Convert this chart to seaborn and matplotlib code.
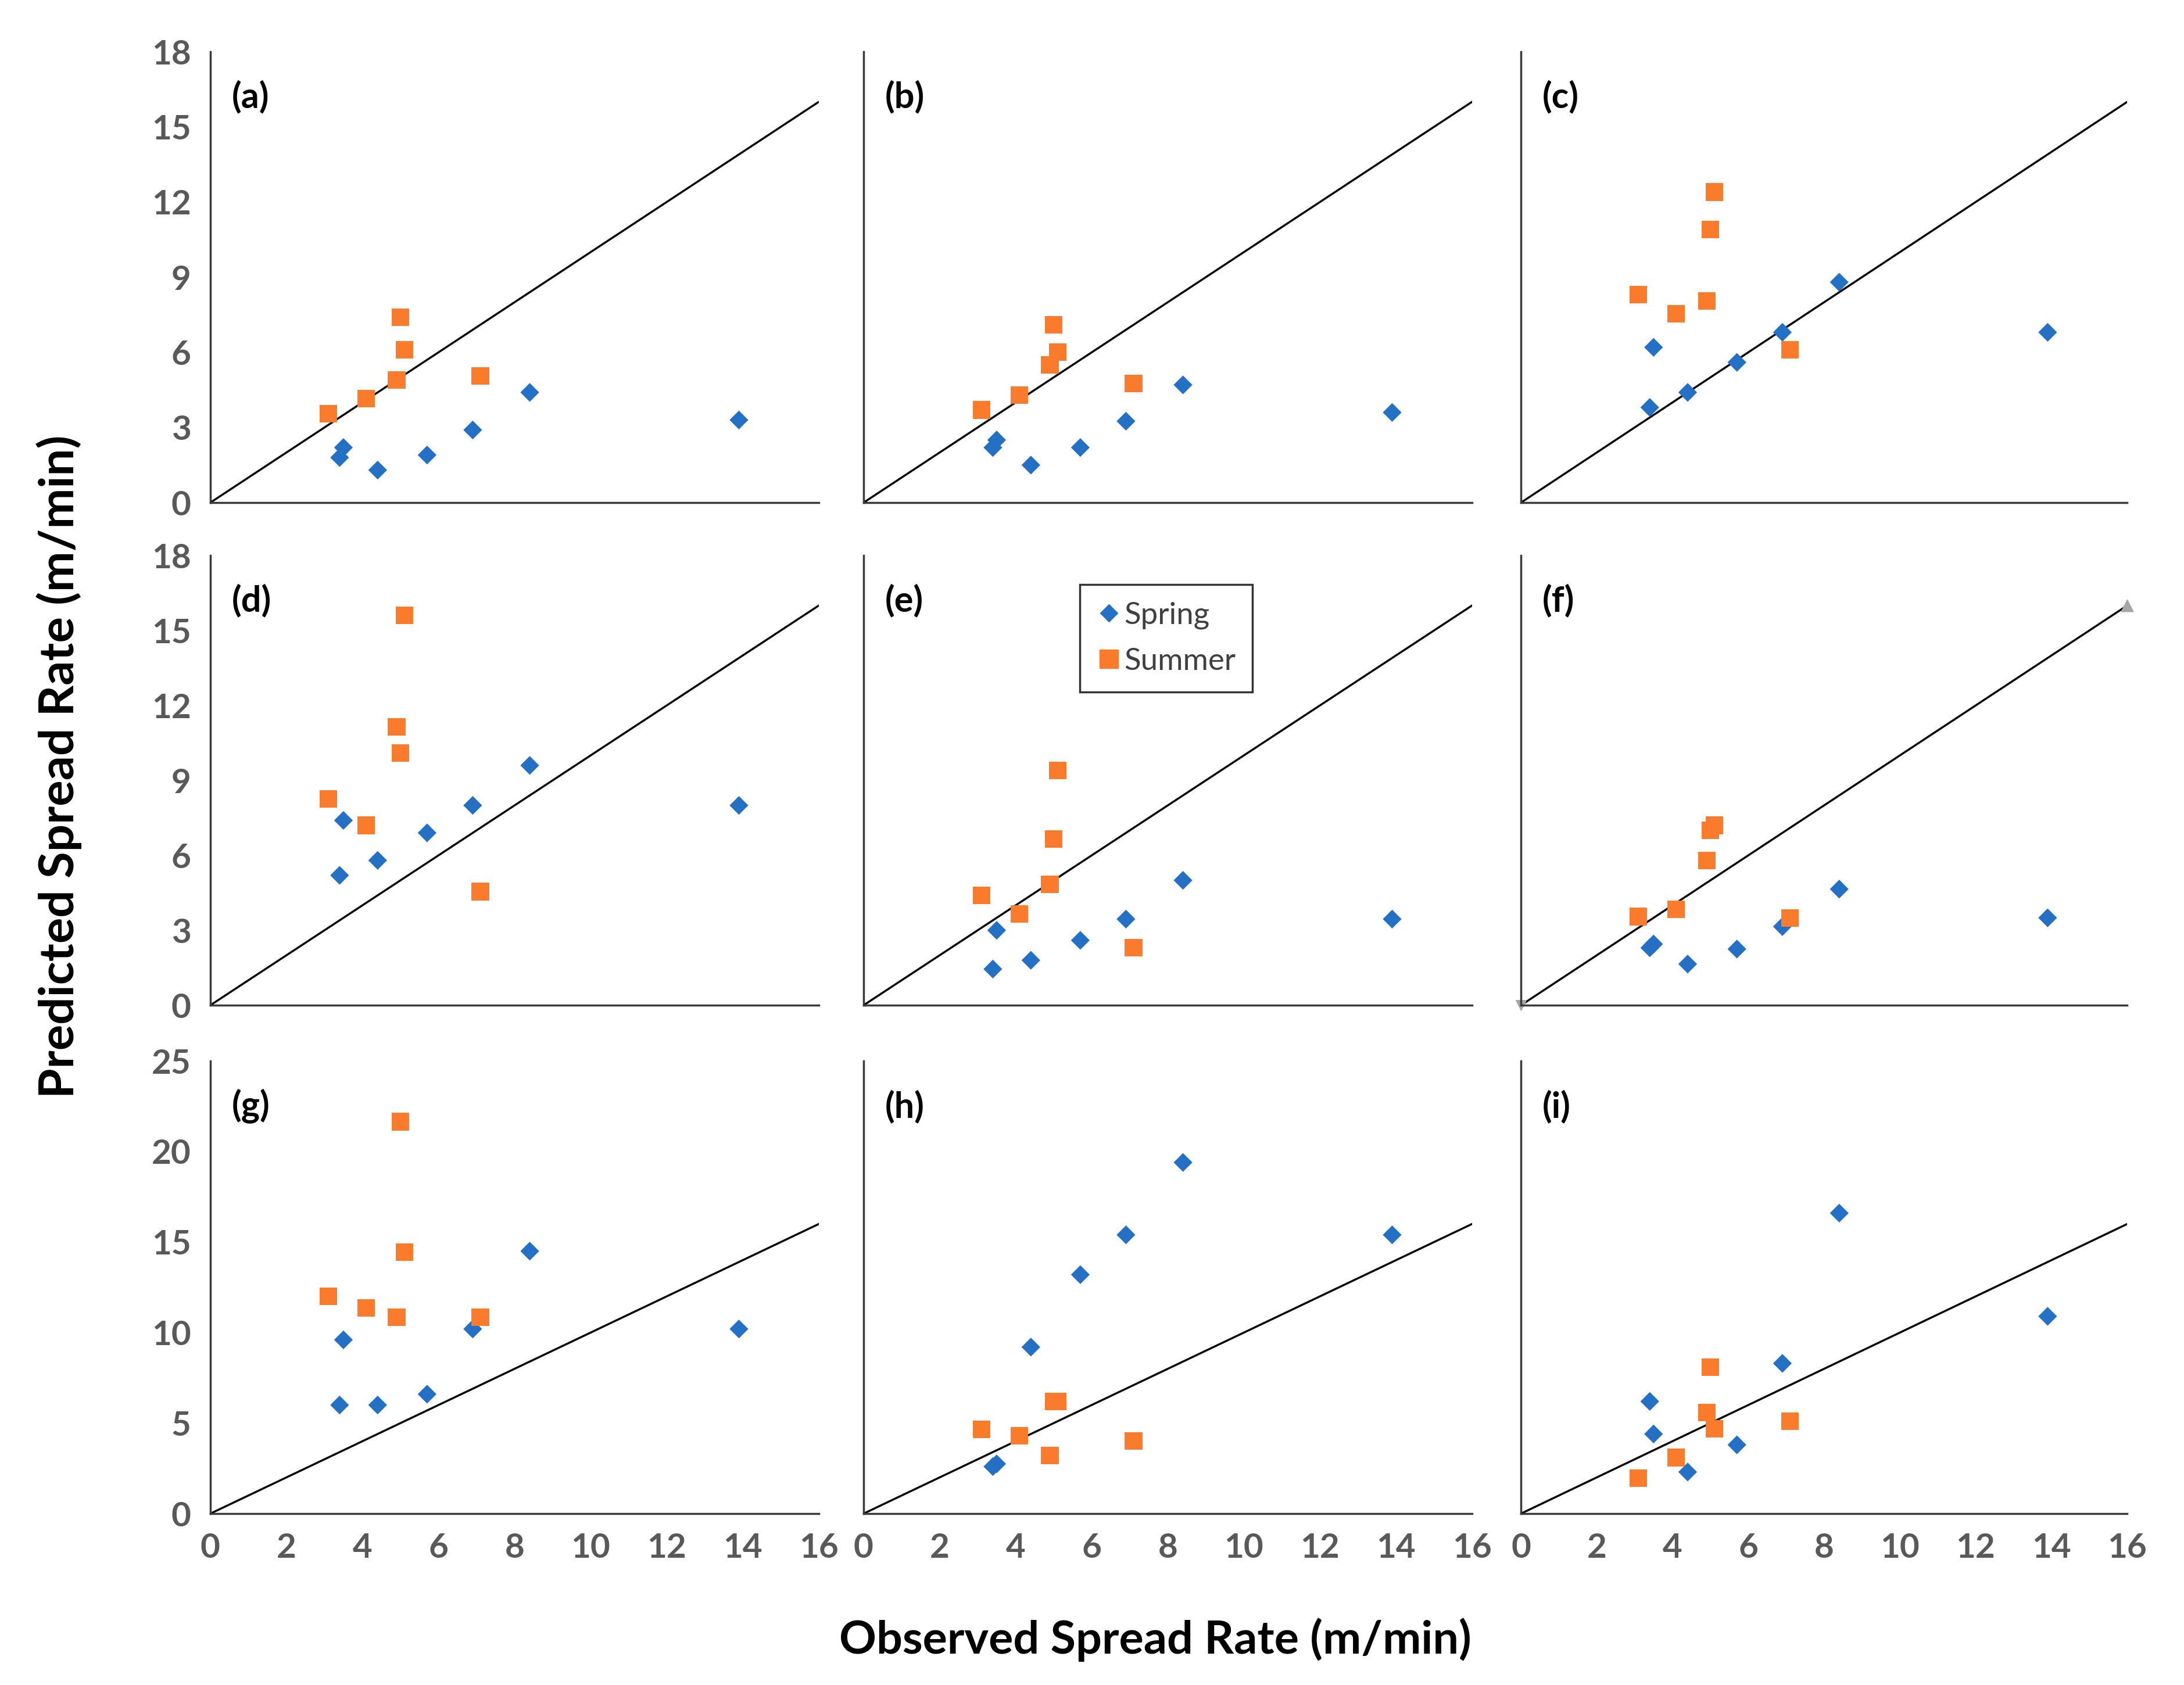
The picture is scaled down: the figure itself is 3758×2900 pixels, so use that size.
import pandas as pd
import seaborn as sns
import matplotlib.pyplot as plt
from matplotlib.lines import Line2D

# observed spread rates (same fires in every panel)
spring_obs = [3.4, 3.5, 4.4, 5.7, 6.9, 8.4, 13.9]
summer_obs = [3.1, 4.1, 4.9, 5.0, 5.1, 7.1]

panels = ["a", "b", "c", "d", "e", "f", "g", "h", "i"]

# predicted spread rates per panel
spring_pred = {
    "a": [1.8, 2.2, 1.3, 1.9, 2.9, 4.4, 3.3],
    "b": [2.2, 2.5, 1.5, 2.2, 3.25, 4.7, 3.6],
    "c": [3.8, 6.2, 4.4, 5.6, 6.8, 8.8, 6.8],
    "d": [5.2, 7.4, 5.8, 6.9, 8.0, 9.6, 8.0],
    "e": [1.45, 3.0, 1.8, 2.6, 3.45, 5.0, 3.45],
    "f": [2.3, 2.45, 1.65, 2.25, 3.15, 4.65, 3.5],
    "g": [6.0, 9.6, 6.0, 6.6, 10.2, 14.5, 10.2],
    "h": [2.6, 2.75, 9.2, 13.2, 15.4, 19.4, 15.4],
    "i": [6.2, 4.4, 2.3, 3.8, 8.3, 16.6, 10.9],
}
summer_pred = {
    "a": [3.55, 4.15, 4.9, 7.4, 6.1, 5.05],
    "b": [3.7, 4.3, 5.5, 7.1, 6.0, 4.75],
    "c": [8.3, 7.55, 8.05, 10.9, 12.4, 6.1],
    "d": [8.25, 7.2, 11.15, 10.1, 15.6, 4.55],
    "e": [4.4, 3.65, 4.85, 6.65, 9.4, 2.3],
    "f": [3.55, 3.85, 5.8, 7.0, 7.2, 3.5],
    "g": [12.0, 11.35, 10.85, 21.65, 14.45, 10.85],
    "h": [4.65, 4.3, 3.2, 6.2, 6.2, 4.0],
    "i": [1.95, 3.1, 5.6, 8.1, 4.7, 5.1],
}

# 1:1 line end points
diag = [0, 16]

x_ticks = [0, 2, 4, 6, 8, 10, 12, 14, 16]
y_ticks_top = [0, 3, 6, 9, 12, 15, 18]
y_ticks_bottom = [0, 5, 10, 15, 20, 25]

rows = []
for p in panels:
    for x, y in zip(spring_obs, spring_pred[p]):
        rows.append({"panel": p, "season": "Spring", "observed": x, "predicted": y})
    for x, y in zip(summer_obs, summer_pred[p]):
        rows.append({"panel": p, "season": "Summer", "observed": x, "predicted": y})
df = pd.DataFrame(rows)

blue = "#2470C4"
orange = "#F97B2B"
palette = {"Spring": blue, "Summer": orange}
markers = {"Spring": "D", "Summer": "s"}
sizes = {"Spring": 270, "Summer": 470}

sns.set_theme(style="white")
plt.rcParams["font.family"] = ["Lato", "DejaVu Sans"]
plt.rcParams["font.weight"] = "bold"

fig = plt.figure(figsize=(37.58, 29.0), dpi=100)

col_left = [0.0963, 0.3954, 0.6964]
col_width = [0.2786, 0.2786, 0.2776]
row_bottom = [0.7017, 0.4034, 0.1017]
row_height = [0.2676, 0.2669, 0.2686]

tick_gray = "#595959"
spine_col = "#3a3a3a"

for k, p in enumerate(panels):
    r, c = divmod(k, 3)
    ax = fig.add_axes([col_left[c], row_bottom[r], col_width[c], row_height[r]])
    sub = df[df["panel"] == p]
    ax.plot(diag, diag, color="black", lw=2.5, zorder=1)
    if p == "f":
        ax.scatter([diag[0]], [diag[0]], marker="v", s=160, color="#A6A6A6", zorder=2, clip_on=False)
        ax.scatter([diag[1]], [diag[1]], marker="^", s=220, color="#A6A6A6", zorder=2, clip_on=False)
    sns.scatterplot(data=sub, x="observed", y="predicted", hue="season", style="season",
                    size="season", palette=palette, markers=markers, sizes=sizes,
                    linewidth=0, ax=ax, legend=False, zorder=3)
    ax.set_xlim(0, 16)
    if r < 2:
        ax.set_ylim(0, 18)
        ax.set_yticks(y_ticks_top)
    else:
        ax.set_ylim(0, 25)
        ax.set_yticks(y_ticks_bottom)
    ax.set_xticks(x_ticks)
    ax.set_xlabel("")
    ax.set_ylabel("")
    for s in ["top", "right"]:
        ax.spines[s].set_visible(False)
    for s in ["left", "bottom"]:
        ax.spines[s].set_color(spine_col)
        ax.spines[s].set_linewidth(2.5)
    ax.tick_params(axis="both", direction="out", length=14, width=2.5, color=spine_col,
                   labelsize=42, labelcolor=tick_gray, pad=10)
    if c > 0:
        ax.tick_params(axis="y", labelleft=False)
    if r < 2:
        ax.tick_params(axis="x", labelbottom=False)
    for lab in ax.get_xticklabels() + ax.get_yticklabels():
        lab.set_fontweight("bold")
    ax.text(0.035, 0.90, f"({p})", transform=ax.transAxes, fontsize=44,
            fontweight="bold", color="black", ha="left", va="center")
    ax.set_facecolor("white")

    if p == "e":
        handles = [
            Line2D([], [], marker="D", linestyle="none", color=blue, markersize=15),
            Line2D([], [], marker="s", linestyle="none", color=orange, markersize=23),
        ]
        leg = ax.legend(handles, ["Spring", "Summer"], loc="upper left",
                        bbox_to_anchor=(0.355, 0.935), frameon=True, fancybox=False,
                        edgecolor="black", fontsize=38, handlelength=0.8,
                        handletextpad=0.1, borderpad=0.55, labelspacing=0.6,
                        borderaxespad=0)
        leg.get_frame().set_linewidth(2.5)
        for t in leg.get_texts():
            t.set_color("#404040")
            t.set_fontweight("normal")

fig.text(0.529, 0.027, "Observed Spread Rate (m/min)", ha="center", va="center",
         fontsize=57, fontweight="bold", color="black")
fig.text(0.027, 0.545, "Predicted Spread Rate (m/min)", ha="center", va="center",
         rotation=90, fontsize=60, fontweight="bold", color="black")

fig.savefig("out.png", dpi=100, facecolor="white")
